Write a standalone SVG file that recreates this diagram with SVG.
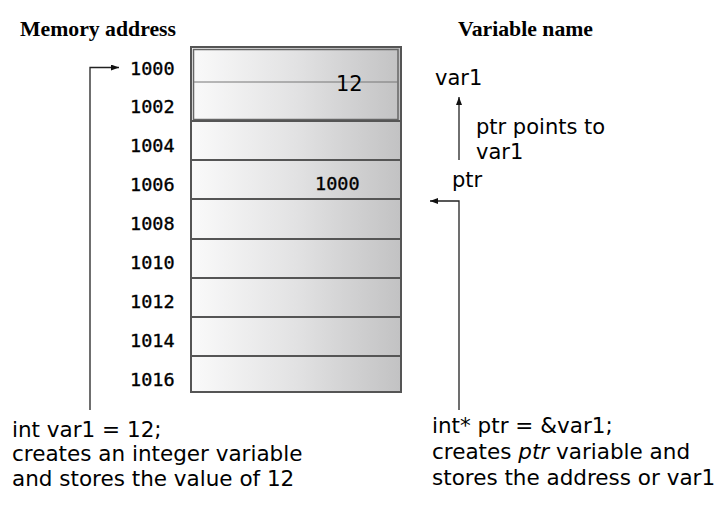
<svg xmlns="http://www.w3.org/2000/svg" width="714" height="515" viewBox="0 0 714 515">
  <defs>
    <linearGradient id="cellGrad" x1="0" y1="0" x2="1" y2="0">
      <stop offset="0" stop-color="#fafafa"/>
      <stop offset="0.5" stop-color="#e2e2e3"/>
      <stop offset="1" stop-color="#c2c2c3"/>
    </linearGradient>
    <marker id="arrow" viewBox="0 0 8 6" refX="8" refY="3" markerWidth="8" markerHeight="6" markerUnits="userSpaceOnUse" orient="auto">
      <path d="M0,0 L8,3 L0,6 Z" fill="#111"/>
    </marker>
    <style>
      .hdr { font-family: "Liberation Serif", "Times New Roman", serif; font-weight: bold; font-size: 21px; fill: #000; }
      .addr { font-family: "DejaVu Sans Mono", "Liberation Mono", monospace; font-size: 18.5px; fill: #000; stroke: #000; stroke-width: 0.35; }
      .sans { font-family: "DejaVu Sans", "Noto Sans", sans-serif; font-size: 21px; fill: #000; }
      .note { font-family: "DejaVu Sans", "Noto Sans", sans-serif; font-size: 21.5px; fill: #000; }
      .cellline { stroke: #555; stroke-width: 2; fill: none; }
      .conn { stroke: #222; stroke-width: 1.3; fill: none; }
    </style>
  </defs>

  <g id="headers">
    <text class="hdr" x="20" y="36" textLength="156" lengthAdjust="spacingAndGlyphs">Memory address</text>
    <text class="hdr" x="458" y="36" textLength="135" lengthAdjust="spacingAndGlyphs">Variable name</text>
  </g>

  <g id="memory-block">
    <rect x="191" y="47" width="210" height="345" fill="url(#cellGrad)" stroke="#555" stroke-width="2"/>
    <rect x="193.5" y="49.5" width="204.5" height="70" fill="none" stroke="#666" stroke-width="1.5"/>
    <line x1="194" y1="82" x2="398" y2="82" stroke="#777" stroke-width="1"/>
    <line class="cellline" x1="191" y1="121" x2="401" y2="121"/>
    <line class="cellline" x1="191" y1="160" x2="401" y2="160"/>
    <line class="cellline" x1="191" y1="199" x2="401" y2="199"/>
    <line class="cellline" x1="191" y1="239" x2="401" y2="239"/>
    <line class="cellline" x1="191" y1="278" x2="401" y2="278"/>
    <line class="cellline" x1="191" y1="317" x2="401" y2="317"/>
    <line class="cellline" x1="191" y1="356" x2="401" y2="356"/>
    <text class="sans" x="336" y="91">12</text>
    <text class="addr" x="315" y="190">1000</text>
  </g>

  <g id="addresses">
    <text class="addr" x="130" y="75">1000</text>
    <text class="addr" x="130" y="113">1002</text>
    <text class="addr" x="130" y="152">1004</text>
    <text class="addr" x="130" y="191">1006</text>
    <text class="addr" x="130" y="230">1008</text>
    <text class="addr" x="130" y="269">1010</text>
    <text class="addr" x="130" y="308">1012</text>
    <text class="addr" x="130" y="347">1014</text>
    <text class="addr" x="130" y="386">1016</text>
  </g>

  <g id="var1-name">
    <text class="sans" x="435" y="85">var1</text>
  </g>
  <g id="ptr-name">
    <text class="sans" x="452" y="187">ptr</text>
  </g>
  <g id="points-label">
    <text class="sans" x="476" y="134">ptr points to</text>
    <text class="sans" x="476" y="159">var1</text>
  </g>

  <g id="note-var1">
    <text class="note" x="12" y="437">int var1 = 12;</text>
    <text class="note" x="12" y="461">creates an integer variable</text>
    <text class="note" x="12" y="486">and stores the value of 12</text>
  </g>
  <g id="note-ptr">
    <text class="note" x="432" y="433">int* ptr = &amp;var1;</text>
    <text class="note" x="432" y="459">creates <tspan font-style="italic">ptr</tspan> variable and</text>
    <text class="note" x="432" y="485">stores the address or var1</text>
  </g>

  <g id="connectors">
    <path class="conn" d="M90,410 L90,67.5 L119,67.5" marker-end="url(#arrow)"/>
    <path class="conn" d="M459,410 L459,201 L430,201" marker-end="url(#arrow)"/>
    <path class="conn" d="M459,160 L459,97" marker-end="url(#arrow)"/>
  </g>
</svg>
